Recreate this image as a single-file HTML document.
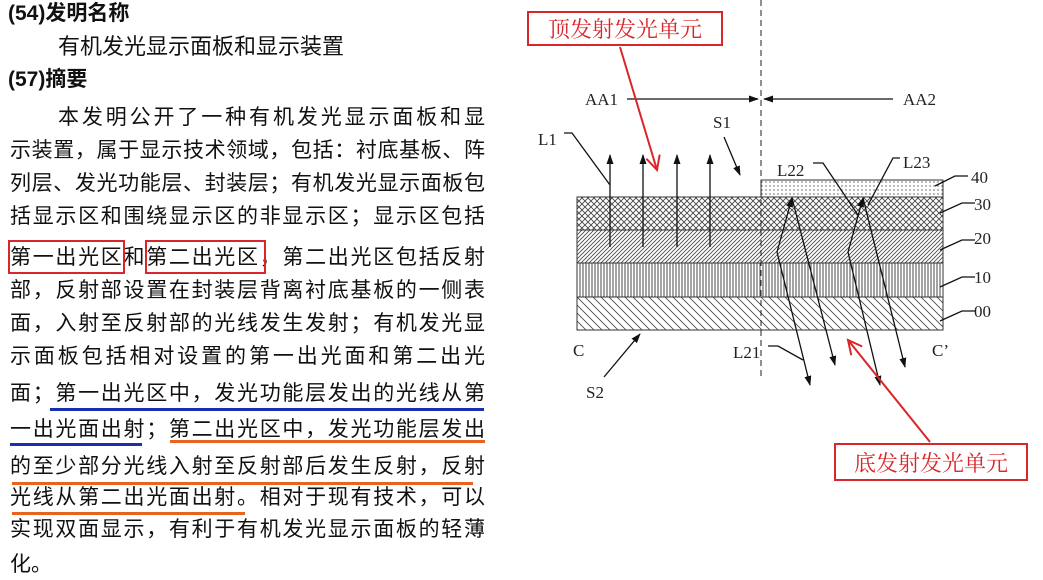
<!DOCTYPE html>
<html><head><meta charset="utf-8"><style>
body{margin:0;width:1043px;height:580px;background:#fff;overflow:hidden;position:relative;font-family:"Liberation Sans","Noto Sans CJK SC",sans-serif;color:#111}
.t{position:absolute;left:10px;width:475px;font-size:21px;line-height:30px;white-space:nowrap;text-align:justify;text-align-last:justify}
.h{position:absolute;font-family:"Liberation Sans","Noto Sans CJK SC",sans-serif;font-weight:bold;font-size:21px;line-height:26px}
.box{position:absolute;border:2px solid #d9262a}
.ul{position:absolute;height:3px}
</style></head><body>
<div class="h" style="left:8px;top:1px">(54)发明名称</div>
<div class="t" style="left:58px;top:32px;width:300px;font-size:22px;text-align:left;text-align-last:left">有机发光显示面板和显示装置</div>
<div class="h" style="left:8px;top:67px">(57)摘要</div>
<div class="t" style="left:58px;width:427px;top:103px">本发明公开了一种有机发光显示面板和显</div>
<div class="t" style="top:136px">示装置，属于显示技术领域，包括：衬底基板、阵</div>
<div class="t" style="top:169px">列层、发光功能层、封装层；有机发光显示面板包</div>
<div class="t" style="top:202px">括显示区和围绕显示区的非显示区；显示区包括</div>
<div class="t" style="top:243px">第一出光区和第二出光区，第二出光区包括反射</div>
<div class="t" style="top:276px">部，反射部设置在封装层背离衬底基板的一侧表</div>
<div class="t" style="top:309px">面，入射至反射部的光线发生发射；有机发光显</div>
<div class="t" style="top:342px">示面板包括相对设置的第一出光面和第二出光</div>
<div class="t" style="top:379px">面；第一出光区中，发光功能层发出的光线从第</div>
<div class="t" style="top:415px">一出光面出射；第二出光区中，发光功能层发出</div>
<div class="t" style="top:452px">的至少部分光线入射至反射部后发生反射，反射</div>
<div class="t" style="top:483px">光线从第二出光面出射。相对于现有技术，可以</div>
<div class="t" style="top:515px">实现双面显示，有利于有机发光显示面板的轻薄</div>
<div class="t" style="top:550px;text-align:left;text-align-last:left">化。</div>
<div class="box" style="left:8px;top:240px;width:113px;height:30px"></div>
<div class="box" style="left:145px;top:240px;width:117px;height:30px"></div>
<div class="ul" style="background:#1a2fb0;left:50px;top:408px;width:434px"></div>
<div class="ul" style="background:#1a2fb0;left:10px;top:443px;width:132px"></div>
<div class="ul" style="background:#e8641e;left:170px;top:440px;width:315px"></div>
<div class="ul" style="background:#e8641e;left:12px;top:482px;width:461px"></div>
<div class="ul" style="background:#e8641e;left:12px;top:512px;width:233px"></div>

<svg style="position:absolute;left:0;top:0" width="1043" height="580" font-family="Liberation Serif" font-size="17">
<defs>
<pattern id="p40" width="4" height="4" patternUnits="userSpaceOnUse"><circle cx="2" cy="2" r="0.7" fill="#555"/></pattern>
<pattern id="p30" width="6" height="6" patternUnits="userSpaceOnUse"><path d="M0 0L6 6M6 0L0 6" stroke="#444" stroke-width="0.9"/></pattern>
<pattern id="p20" width="4" height="4" patternUnits="userSpaceOnUse"><path d="M-1 5L5 -1M-1 1L1 -1M3 5L5 3" stroke="#444" stroke-width="0.8"/></pattern>
<pattern id="p10" width="3" height="10" patternUnits="userSpaceOnUse"><path d="M1 0V10" stroke="#333" stroke-width="0.9"/></pattern>
<pattern id="p00" width="8" height="8" patternUnits="userSpaceOnUse"><path d="M0 0L8 8M-4 4L4 12M4 -4L12 4" stroke="#444" stroke-width="0.8"/></pattern>
<marker id="ah" markerWidth="10" markerHeight="10" refX="9" refY="5" orient="auto" markerUnits="userSpaceOnUse"><path d="M0 1.5L10 5L0 8.5Z" fill="#111"/></marker>
<marker id="rh" markerWidth="16" markerHeight="16" refX="14" refY="8" orient="auto" markerUnits="userSpaceOnUse"><path d="M0 1L14 8L0 15" fill="none" stroke="#d9262a" stroke-width="2"/></marker>
</defs>
<rect x="761" y="180" width="182" height="17" fill="url(#p40)" stroke="#333"/>
<rect x="577" y="197" width="366" height="33" fill="url(#p30)" stroke="#333"/>
<rect x="577" y="230" width="366" height="33" fill="url(#p20)" stroke="#333"/>
<rect x="577" y="263" width="366" height="34" fill="url(#p10)" stroke="#333"/>
<rect x="577" y="297" width="366" height="33" fill="url(#p00)" stroke="#333"/>
<line x1="761" y1="0" x2="761" y2="380" stroke="#222" stroke-dasharray="6,4"/>
<g stroke="#111" stroke-width="1.3" fill="none">
<line x1="627" y1="99" x2="758" y2="99" marker-end="url(#ah)"/>
<line x1="893" y1="99" x2="764" y2="99" marker-end="url(#ah)"/>
<line x1="610" y1="247" x2="610" y2="155" marker-end="url(#ah)"/>
<line x1="643" y1="247" x2="643" y2="155" marker-end="url(#ah)"/>
<line x1="677" y1="247" x2="677" y2="155" marker-end="url(#ah)"/>
<line x1="710" y1="247" x2="710" y2="155" marker-end="url(#ah)"/>
<path d="M564 133H572L610 185"/>
<line x1="724" y1="137" x2="740" y2="175" marker-end="url(#ah)"/>
<line x1="604" y1="377" x2="640" y2="334" marker-end="url(#ah)"/>
<line x1="777" y1="252" x2="792" y2="198" marker-end="url(#ah)"/>
<line x1="792" y1="198" x2="835" y2="365" marker-end="url(#ah)"/>
<line x1="777" y1="252" x2="810" y2="385" marker-end="url(#ah)"/>
<line x1="848" y1="252" x2="863" y2="198" marker-end="url(#ah)"/>
<line x1="863" y1="198" x2="905" y2="367" marker-end="url(#ah)"/>
<line x1="848" y1="252" x2="880" y2="385" marker-end="url(#ah)"/>
<path d="M813 163H823L858 215"/>
<path d="M900 158H893L868 205"/>
<path d="M968 176H955L935 186"/>
<path d="M975 203H962L940 213"/>
<path d="M975 240H962L940 250"/>
<path d="M975 277H962L940 287"/>
<path d="M975 311H962L940 321"/>
<path d="M768 346H778L803 360"/>
</g>
<g fill="#222">
<text x="585" y="105">AA1</text><text x="903" y="105">AA2</text>
<text x="538" y="145">L1</text><text x="713" y="128">S1</text>
<text x="777" y="176">L22</text><text x="903" y="168">L23</text>
<text x="971" y="183">40</text><text x="974" y="210">30</text>
<text x="974" y="244">20</text><text x="974" y="283">10</text>
<text x="974" y="317">00</text>
<text x="573" y="356">C</text><text x="932" y="356">C’</text>
<text x="733" y="358">L21</text><text x="586" y="398">S2</text>
</g>
<rect x="528" y="12" width="194" height="33" fill="#fff" stroke="#d9262a" stroke-width="2"/>
<text x="625" y="37" text-anchor="middle" font-size="22" fill="#d9262a" font-family="Liberation Serif,Noto Serif CJK SC,serif">顶发射发光单元</text>
<line x1="620" y1="47" x2="657" y2="170" stroke="#d9262a" stroke-width="2" marker-end="url(#rh)"/>
<rect x="835" y="444" width="192" height="36" fill="#fff" stroke="#d9262a" stroke-width="2"/>
<text x="931" y="471" text-anchor="middle" font-size="22" fill="#d9262a" font-family="Liberation Serif,Noto Serif CJK SC,serif">底发射发光单元</text>
<line x1="930" y1="442" x2="848" y2="340" stroke="#d9262a" stroke-width="2" marker-end="url(#rh)"/>
</svg>
</body></html>
